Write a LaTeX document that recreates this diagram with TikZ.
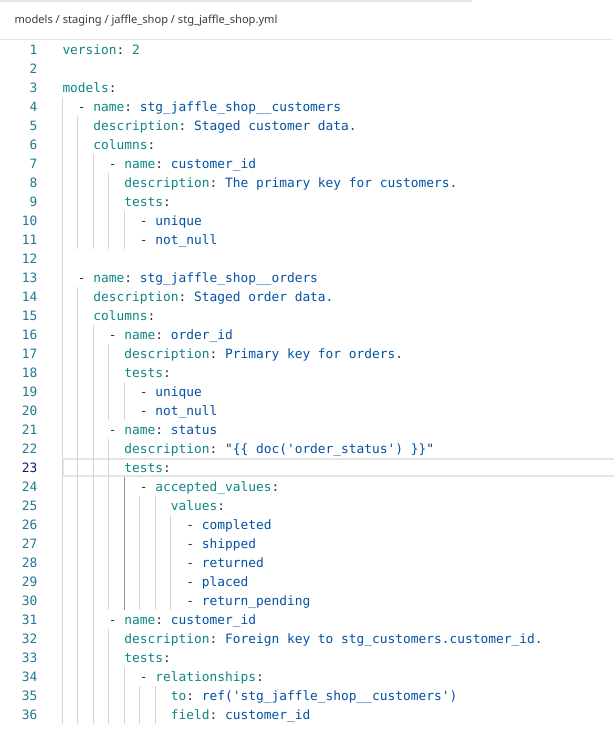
\documentclass[tikz,border=0pt]{standalone}
\usepackage{fontspec}
\setmainfont{Noto Sans}
\setmonofont{DejaVu Sans Mono}
\definecolor{keyc}{HTML}{0E8587}
\definecolor{valc}{HTML}{0451A5}
\definecolor{punc}{HTML}{333333}
\definecolor{lnc}{HTML}{237893}
\definecolor{lnact}{HTML}{0B216F}
\definecolor{guidec}{HTML}{D6D6D6}
\definecolor{guideact}{HTML}{939393}
\definecolor{sepc}{HTML}{E5E5E5}
\definecolor{crumbc}{HTML}{3B3B3B}
\newcommand\ck[1]{\textcolor{keyc}{#1}}
\newcommand\cv[1]{\textcolor{valc}{#1}}
\newcommand\codeln[3]{\node[codetext] (L#1) at ({62.3+#2*7.742},{54+19*(#1-1)}) {#3};}
\newcommand\guide[4]{\draw[#4] ({62.3+#1*7.742},{40+19*(#2-1)}) -- ({62.3+#1*7.742},{40+19*#3});}
\begin{document}
\begin{tikzpicture}[x=1pt,y=-1pt,
  codetext/.style={anchor=base west,inner sep=0pt,text=punc,font=\ttfamily\fontsize{12.86}{15}\selectfont\frenchspacing},
  lnum/.style={anchor=base east,inner sep=0pt,text=lnc,font=\ttfamily\fontsize{12.86}{15}\selectfont},
  gd/.style={guidec,line width=1pt},
  gda/.style={guideact,line width=1pt},
  curline/.style={draw=sepc,line width=1.6pt},
  crumb/.style={anchor=base west,inner sep=0pt,text=crumbc,font=\fontsize{11.1}{13}\selectfont}]
\useasboundingbox (0,0) rectangle (613,744);
\fill[white] (0,0) rectangle (613,744);
% header
\fill[sepc] (0,0) rectangle (472,1.6);
\node[crumb] (crumb) at (14.3,23.3) {models / staging / jaffle\_shop / stg\_jaffle\_shop.yml};
\draw[sepc,line width=1.2pt] (0,39.3) -- (613,39.3);
% current line highlight
\draw[curline] (63.1,458.8) rectangle (615,476.2);
% indent guides
\guide{0}{4}{36}{gd}
\guide{2}{5}{11}{gd}
\guide{2}{14}{36}{gd}
\guide{4}{7}{11}{gd}
\guide{4}{16}{36}{gd}
\guide{6}{8}{11}{gd}
\guide{6}{17}{20}{gd}
\guide{6}{22}{30}{gd}
\guide{6}{32}{36}{gd}
\guide{8}{10}{11}{gd}
\guide{8}{19}{20}{gd}
\guide{8}{34}{36}{gd}
\guide{10}{25}{30}{gd}
\guide{10}{35}{36}{gd}
\guide{12}{25}{30}{gd}
\guide{12}{35}{36}{gd}
\guide{14}{26}{30}{gd}
\guide{8}{24}{30}{gda}
% line numbers
\foreach \n in {1,...,22,24,25,...,36} {\node[lnum] (N\n) at (37.5,{54+19*(\n-1)}) {\n};}
\node[lnum,text=lnact] (N23) at (37.5,{54+19*22}) {23};
% code
\codeln{1}{0}{\ck{version}: \ck{2}}
\codeln{3}{0}{\ck{models}:}
\codeln{4}{2}{- \ck{name}: \cv{stg\_jaffle\_shop\_\_customers}}
\codeln{5}{4}{\ck{description}: \cv{Staged customer data.}}
\codeln{6}{4}{\ck{columns}:}
\codeln{7}{6}{- \ck{name}: \cv{customer\_id}}
\codeln{8}{8}{\ck{description}: \cv{The primary key for customers.}}
\codeln{9}{8}{\ck{tests}:}
\codeln{10}{10}{- \cv{unique}}
\codeln{11}{10}{- \cv{not\_null}}
\codeln{13}{2}{- \ck{name}: \cv{stg\_jaffle\_shop\_\_orders}}
\codeln{14}{4}{\ck{description}: \cv{Staged order data.}}
\codeln{15}{4}{\ck{columns}:}
\codeln{16}{6}{- \ck{name}: \cv{order\_id}}
\codeln{17}{8}{\ck{description}: \cv{Primary key for orders.}}
\codeln{18}{8}{\ck{tests}:}
\codeln{19}{10}{- \cv{unique}}
\codeln{20}{10}{- \cv{not\_null}}
\codeln{21}{6}{- \ck{name}: \cv{status}}
\codeln{22}{8}{\ck{description}: "\cv{\{\{ doc('order\_status') \}\}}"}
\codeln{23}{8}{\ck{tests}:}
\codeln{24}{10}{- \ck{accepted\_values}:}
\codeln{25}{14}{\ck{values}:}
\codeln{26}{16}{- \cv{completed}}
\codeln{27}{16}{- \cv{shipped}}
\codeln{28}{16}{- \cv{returned}}
\codeln{29}{16}{- \cv{placed}}
\codeln{30}{16}{- \cv{return\_pending}}
\codeln{31}{6}{- \ck{name}: \cv{customer\_id}}
\codeln{32}{8}{\ck{description}: \cv{Foreign key to stg\_customers.customer\_id.}}
\codeln{33}{8}{\ck{tests}:}
\codeln{34}{10}{- \ck{relationships}:}
\codeln{35}{14}{\ck{to}: \cv{ref('stg\_jaffle\_shop\_\_customers')}}
\codeln{36}{14}{\ck{field}: \cv{customer\_id}}
\end{tikzpicture}
\end{document}
